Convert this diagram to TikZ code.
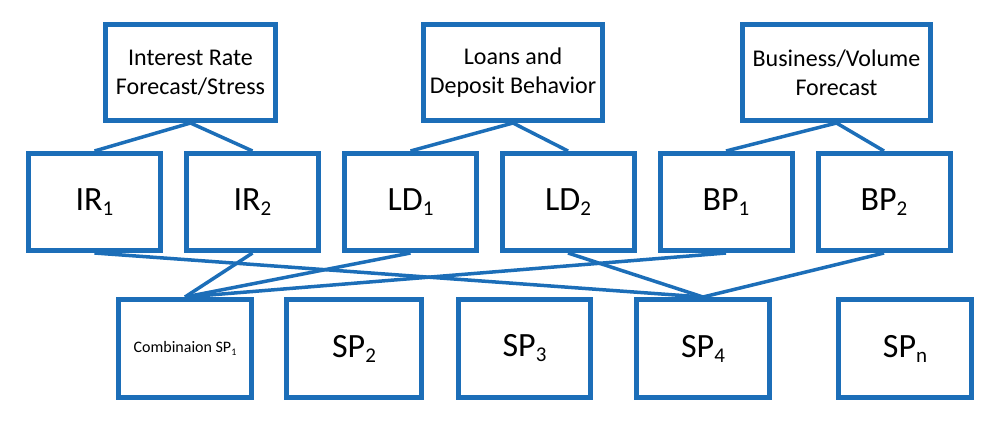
\documentclass[tikz,border=0pt]{standalone}
\usepackage{fontspec}
\setmainfont{Carlito}
\definecolor{boxblue}{RGB}{28,110,184}
\newcommand\biglab[2]{{\fontsize{34}{40}\selectfont #1\raisebox{-5pt}{\fontsize{21}{21}\selectfont #2}}}
\begin{document}
\begin{tikzpicture}[x=1pt,y=-1pt,
  box/.style={draw=boxblue, line width=5pt, fill=white, inner sep=0pt, align=center},
  topbox/.style={box, minimum height=96pt, font=\fontsize{24}{29}\selectfont},
  midbox/.style={box, minimum width=132pt, minimum height=97pt},
  botbox/.style={box, minimum width=133pt, minimum height=98pt},
  link/.style={draw=boxblue, line width=3.5pt}]
\useasboundingbox (0,0) rectangle (1000,421);
% top row
\node[topbox, minimum width=170pt] (irf) at (190.5,72.5) {Interest Rate\\Forecast/Stress};
\node[topbox, minimum width=179pt] (ldb) at (513,72.5) {Loans and\\Deposit Behavior};
\node[topbox, minimum width=188pt] (bvf) at (836.5,72.5) {Business/Volume\\Forecast};
% middle row
\node[midbox] (ir1) at (94.5,202) {\biglab{IR}{1}};
\node[midbox] (ir2) at (252.5,202) {\biglab{IR}{2}};
\node[midbox] (ld1) at (410.5,202) {\biglab{LD}{1}};
\node[midbox] (ld2) at (568,202) {\biglab{LD}{2}};
\node[midbox] (bp1) at (726,202) {\biglab{BP}{1}};
\node[midbox] (bp2) at (884,202) {\biglab{BP}{2}};
% bottom row
\node[botbox] (sp1) at (185,348.5) {{\fontsize{16}{19}\selectfont Combinaion SP\raisebox{-2.5pt}{\fontsize{10}{10}\selectfont 1}}};
\node[botbox, minimum width=135pt] (sp2) at (354,348.5) {\biglab{SP}{2}};
\node[botbox, minimum width=132pt] (sp3) at (524.5,348.5) {\biglab{SP}{3}};
\node[botbox] (sp4) at (703,348.5) {\biglab{SP}{4}};
\node[botbox] (spn) at (905,348.5) {\biglab{SP}{n}};
% connectors top -> middle
\draw[link] (irf.south) -- (ir1.north);
\draw[link] (irf.south) -- (ir2.north);
\draw[link] (ldb.south) -- (ld1.north);
\draw[link] (ldb.south) -- (ld2.north);
\draw[link] (bvf.south) -- (bp1.north);
\draw[link] (bvf.south) -- (bp2.north);
% connectors middle -> bottom
\draw[link] (ir2.south) -- (sp1.north);
\draw[link] (ld1.south) -- (sp1.north);
\draw[link] (bp1.south) -- (sp1.north);
\draw[link] (ir1.south) -- (sp4.north);
\draw[link] (ld2.south) -- (sp4.north);
\draw[link] (bp2.south) -- (sp4.north);
\end{tikzpicture}
\end{document}
